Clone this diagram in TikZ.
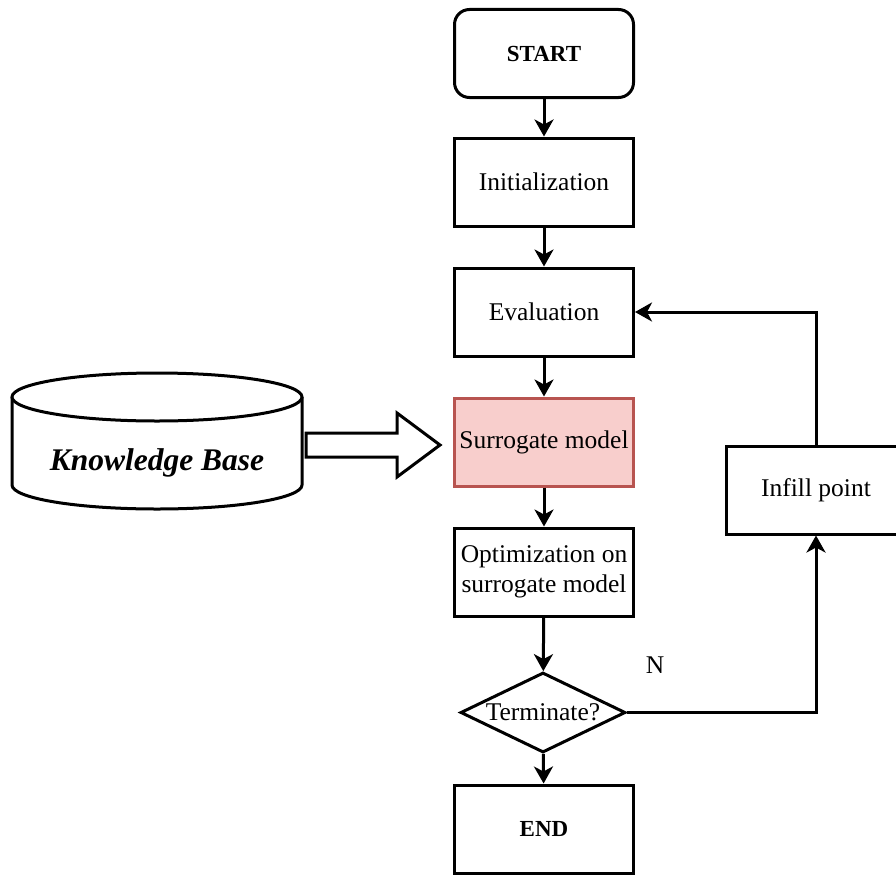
\documentclass[tikz,border=0pt]{standalone}
\usepackage{fontspec}
\setmainfont{Liberation Serif}
\usetikzlibrary{arrows.meta,shapes.geometric}
\definecolor{pinkfill}{HTML}{F8CECC}
\definecolor{pinkline}{HTML}{B85450}
\begin{document}
\begin{tikzpicture}[x=1pt,y=-1pt,line width=3pt,
  box/.style={draw=black, fill=white, minimum width=179pt, minimum height=88pt, inner sep=2pt,
    font=\fontsize{25.5}{30}\selectfont, align=center},
  boldbox/.style={box, font=\fontsize{23}{27}\selectfont\bfseries},
  arr/.style={-{Stealth[length=17pt,width=19pt,inset=5pt]}, line width=3pt},
]
\useasboundingbox (0,0) rectangle (896,875);
\clip (0,0) rectangle (896,875);

\node[boldbox, rounded corners=15pt] (start) at (544,53.5) {START};
\node[box] (init) at (544,182) {Initialization};
\node[box] (eval) at (544,312) {Evaluation};
\node[box, fill=pinkfill, draw=pinkline] (surr) at (544,442) {Surrogate model};
\node[box] (opt) at (544,572) {Optimization on\\surrogate model};
\node[draw, diamond, shape aspect=2, inner sep=0pt, minimum width=165pt, minimum height=80pt,
  font=\fontsize{25.5}{30}\selectfont] (term) at (543,712.5) {Terminate?};
\node[boldbox] (end) at (544,829) {END};
\node[box] (infill) at (816,490) {Infill point};
\node[font=\fontsize{25.5}{30}\selectfont] (nlab) at (655,665) {N};

% knowledge base cylinder
\draw[fill=white] (12,397) -- (12,485) arc[start angle=180, end angle=0, x radius=145, y radius=24] -- (302,397);
\draw[fill=white] (157,397) ellipse [x radius=145, y radius=24];
\node[font=\fontsize{31.5}{36}\selectfont\bfseries\itshape] (kb) at (157,463) {Knowledge Base};

% hollow arrow
\draw[fill=white, line join=miter] (306,433) -- (397,433) -- (397,413) -- (440,445) -- (397,477) -- (397,457) -- (306,457) -- cycle;

\draw[arr] (start) -- (init);
\draw[arr] (init) -- (eval);
\draw[arr] (eval) -- (surr);
\draw[arr] (surr) -- (opt);
\draw[arr] (opt) -- (term);
\draw[arr] (term) -- (end);
\draw[arr] (term.east) -| (infill.south);
\draw[arr] (infill.north) |- (eval.east);
\end{tikzpicture}
\end{document}
